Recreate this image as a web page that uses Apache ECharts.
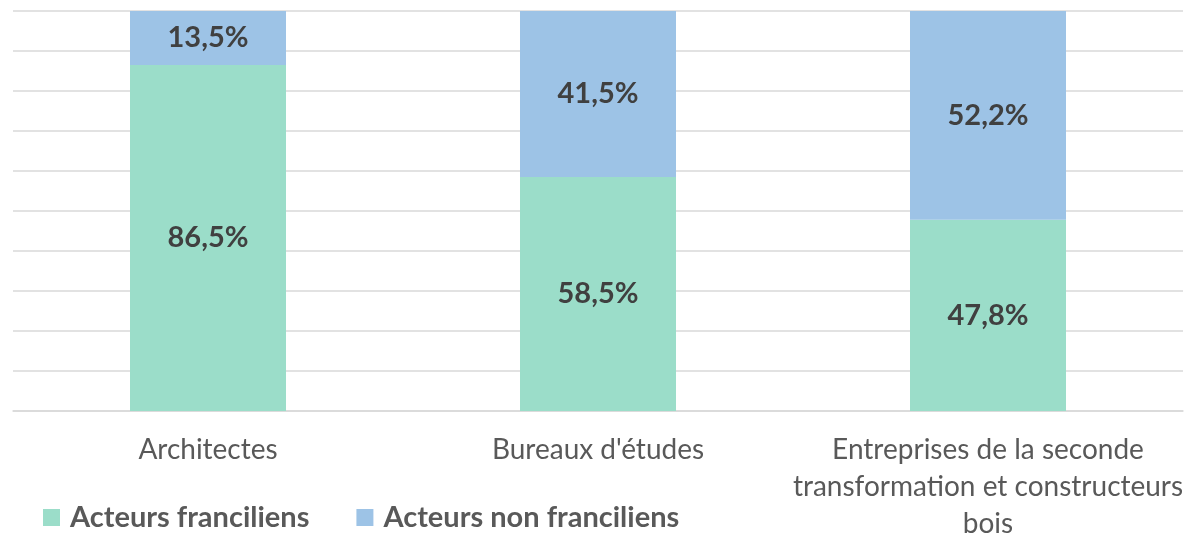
<!DOCTYPE html>
<html>
<head>
<meta charset="utf-8">
<script src="https://cdn.jsdelivr.net/npm/echarts@6/dist/echarts.min.js"></script>
<style>
  html, body { margin: 0; padding: 0; background: #fff; }
  #main { width: 1188px; height: 537px; }
</style>
</head>
<body>
<div id="main"></div>
<script>
var categories = ["Architectes", "Bureaux d'études", "Entreprises de la seconde\ntransformation et constructeurs\nbois"];
var franciliens = [86.5, 58.5, 47.8];
var nonFranciliens = [13.5, 41.5, 52.2];
var seriesNames = ["Acteurs franciliens", "Acteurs non franciliens"];

var chartDom = document.getElementById("main");
var myChart = echarts.init(chartDom);
var option;

function pct(p) {
  return p.value.toFixed(1).replace(".", ",") + "%";
}

var labelStyle = {
  show: true,
  position: "inside",
  formatter: pct,
  color: "#404040",
  fontFamily: "Lato",
  fontWeight: "bold",
  fontSize: 29
};

option = {
  animation: false,
  textStyle: { fontFamily: "Lato" },
  grid: { left: 13, right: 5, top: 11, bottom: 126, outerBoundsMode: "none" },
  legend: {
    left: 38,
    top: 498,
    itemWidth: 17,
    itemHeight: 17,
    itemGap: 47,
    icon: "rect",
    textStyle: {
      color: "#595959",
      fontSize: 29,
      fontWeight: "bold",
      fontFamily: "Lato",
      padding: [0, 0, 0, 5]
    },
    data: seriesNames
  },
  xAxis: {
    type: "category",
    data: categories,
    axisTick: { show: false },
    axisLine: { lineStyle: { color: "#D9D9D9", width: 1.5 } },
    axisLabel: {
      color: "#595959",
      fontSize: 28,
      lineHeight: 37,
      margin: 20,
      interval: 0
    }
  },
  yAxis: {
    type: "value",
    min: 0,
    max: 100,
    interval: 10,
    axisLabel: { show: false },
    axisLine: { show: false },
    axisTick: { show: false },
    splitLine: { lineStyle: { color: "#D9D9D9", width: 1.5 } }
  },
  series: [
    {
      name: seriesNames[0],
      type: "bar",
      stack: "total",
      barWidth: "40%",
      data: franciliens,
      itemStyle: { color: "#9BDDC9" },
      label: labelStyle
    },
    {
      name: seriesNames[1],
      type: "bar",
      stack: "total",
      data: nonFranciliens,
      itemStyle: { color: "#9DC3E6" },
      label: labelStyle
    }
  ]
};

option && myChart.setOption(option);
</script>
</body>
</html>
